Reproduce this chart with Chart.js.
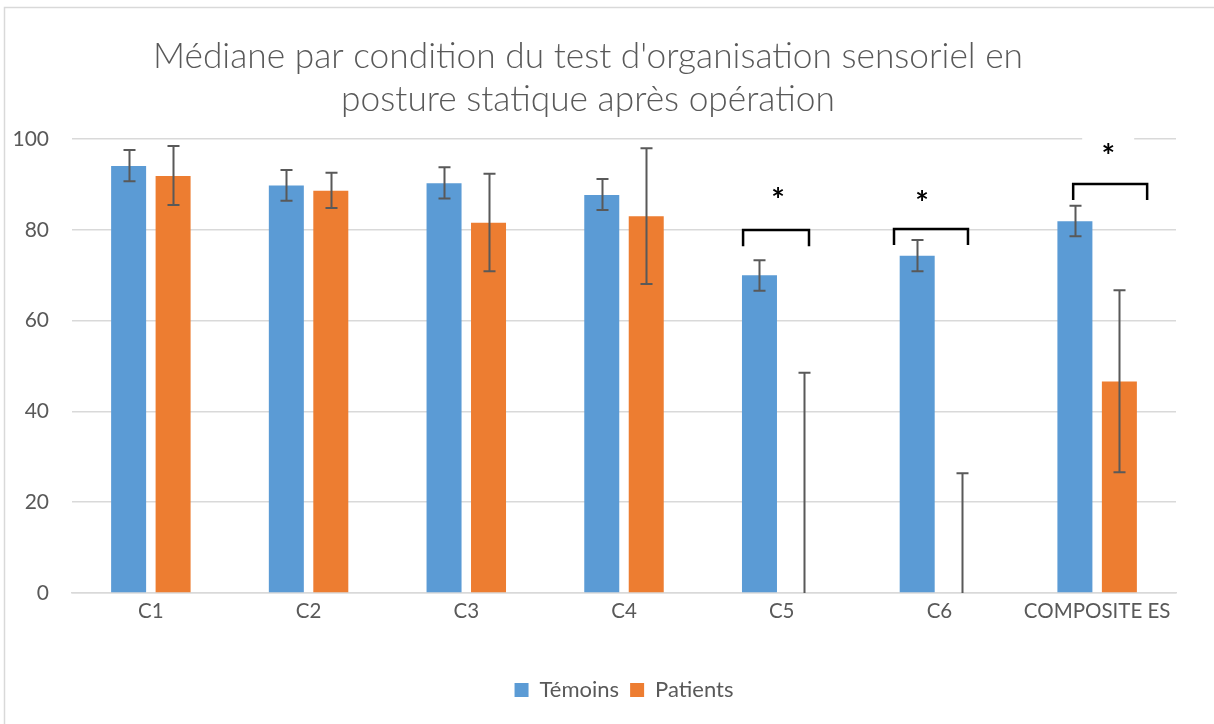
<!DOCTYPE html>
<html>
<head>
<meta charset="utf-8">
<script src="https://cdn.jsdelivr.net/npm/chart.js@4"></script>
<style>
  html, body { margin: 0; padding: 0; background: #fff; }
  #wrap { width: 1214px; height: 724px; position: relative; }
</style>
</head>
<body>
<div id="wrap"><canvas id="myChart" width="1214" height="724"></canvas></div>
<script>
const labels = ['C1', 'C2', 'C3', 'C4', 'C5', 'C6', 'COMPOSITE ES'];

const temoins = [94.1, 89.8, 90.3, 87.7, 70.0, 74.3, 81.9];
const patients = [91.9, 88.6, 81.6, 83.0, 0, 0, 46.6];

// bornes des barres d'erreur
const temoinsLow = [90.7, 86.4, 86.9, 84.4, 66.6, 70.9, 78.6];
const temoinsHigh = [97.6, 93.2, 93.8, 91.2, 73.3, 77.8, 85.3];
const patientsLow = [85.5, 84.8, 70.9, 68.1, 0, 0, 26.6];
const patientsHigh = [98.5, 92.6, 92.4, 98.0, 48.5, 26.4, 66.7];

// crochets de significativité : categorie, debut, fin, haut, bas des bras, position de l'etoile
const sigCategory = [4, 5, 6];
const sigFrom = [-0.245, -0.288, -0.152];
const sigTo = [0.173, 0.181, 0.317];
const sigTop = [80, 80.2, 90.1];
const sigArm = [76.4, 76.7, 86.6];
const sigStarX = [-0.024, -0.11, 0.07];
const sigStarY = [87.7, 87.2, 97.4];

const yTicks = [0, 20, 40, 60, 80, 100];

const FONT = 'Lato, "Open Sans", sans-serif';

const errorBars = {
  id: 'errorBars',
  afterDatasetsDraw(chart) {
    const ctx = chart.ctx;
    const y = chart.scales.y;
    const lows = [temoinsLow, patientsLow];
    const highs = [temoinsHigh, patientsHigh];
    ctx.save();
    ctx.strokeStyle = '#595959';
    ctx.lineWidth = 2;
    for (let d = 0; d < 2; d++) {
      const meta = chart.getDatasetMeta(d);
      meta.data.forEach((bar, i) => {
        const x = Math.round(bar.x) + 0.5;
        const yl = y.getPixelForValue(lows[d][i]);
        const yh = y.getPixelForValue(highs[d][i]);
        ctx.beginPath();
        ctx.moveTo(x, yl);
        ctx.lineTo(x, yh);
        ctx.moveTo(x - 6, yh);
        ctx.lineTo(x + 6, yh);
        if (lows[d][i] > 0) {
          ctx.moveTo(x - 6, yl);
          ctx.lineTo(x + 6, yl);
        }
        ctx.stroke();
      });
    }
    ctx.restore();
  }
};

const signif = {
  id: 'signif',
  afterDraw(chart) {
    const ctx = chart.ctx;
    const xs = chart.scales.x;
    const ys = chart.scales.y;
    ctx.save();
    for (let k = 0; k < sigCategory.length; k++) {
      const c = sigCategory[k];
      const x1 = xs.getPixelForValue(c + sigFrom[k]);
      const x2 = xs.getPixelForValue(c + sigTo[k]);
      const yt = ys.getPixelForValue(sigTop[k]);
      const ya = ys.getPixelForValue(sigArm[k]);
      const sx = xs.getPixelForValue(c + sigStarX[k]);
      const sy = ys.getPixelForValue(sigStarY[k]);
      // fond blanc derriere l'etoile (coupe la grille)
      ctx.fillStyle = '#fff';
      ctx.fillRect(sx - 26, sy - 14, 52, 28);
      ctx.strokeStyle = '#000';
      ctx.lineWidth = 2.5;
      ctx.beginPath();
      ctx.moveTo(x1, ya);
      ctx.lineTo(x1, yt);
      ctx.lineTo(x2, yt);
      ctx.lineTo(x2, ya);
      ctx.stroke();
      ctx.fillStyle = '#000';
      ctx.font = 'bold 32px ' + FONT;
      ctx.textAlign = 'center';
      ctx.textBaseline = 'middle';
      ctx.fillText('*', sx, sy + 7);
    }
    ctx.restore();
  }
};

const frame = {
  id: 'frame',
  beforeDraw(chart) {
    const ctx = chart.ctx;
    ctx.save();
    ctx.fillStyle = '#fff';
    ctx.fillRect(0, 0, chart.width, chart.height);
    ctx.strokeStyle = '#d9d9d9';
    ctx.lineWidth = 1.5;
    ctx.strokeRect(4.5, 7.5, chart.width + 10, chart.height + 10);
    ctx.restore();
  }
};

// la legende est centree sous la zone du graphique, pas sous le canvas
const legendShift = {
  id: 'legendShift',
  afterLayout(chart) {
    const dx = (chart.chartArea.left + chart.chartArea.right) / 2 - (chart.legend.left + chart.legend.right) / 2;
    chart.legend.left += dx;
    chart.legend.right += dx;
  }
};

const data = {
  labels: labels,
  datasets: [
    {
      label: 'Témoins',
      data: temoins,
      backgroundColor: '#5B9BD5',
      categoryPercentage: 0.564,
      barPercentage: 0.787
    },
    {
      label: 'Patients',
      data: patients,
      backgroundColor: '#ED7D31',
      categoryPercentage: 0.564,
      barPercentage: 0.787
    }
  ]
};

const config = {
  type: 'bar',
  data,
  plugins: [frame, legendShift, errorBars, signif],
  options: {
    responsive: false,
    animation: false,
    layout: { padding: { top: 10, left: 0, right: 38, bottom: 13 } },
    plugins: {
      title: {
        display: true,
        text: ["Médiane par condition du test d'organisation sensoriel en", 'posture statique après opération'],
        color: '#595959',
        font: { family: FONT, size: 35.3, weight: 300, lineHeight: 1.22 },
        padding: { top: 25, bottom: 18 }
      },
      legend: {
        position: 'bottom',
        labels: {
          color: '#595959',
          font: { family: FONT, size: 22 },
          boxWidth: 14,
          boxHeight: 14,
          padding: 11
        }
      },
      tooltip: { enabled: false }
    },
    scales: {
      x: {
        grid: { display: false, drawTicks: false },
        border: { display: true, color: '#d9d9d9', width: 1.5 },
        ticks: { color: '#595959', font: { family: FONT, size: 20.5 }, padding: 6 },
        afterFit: (s) => { s.height = 75; }
      },
      y: {
        min: 0,
        max: 100,
        afterBuildTicks: (s) => { s.ticks = yTicks.map(v => ({ value: v })); },
        grid: { color: '#d9d9d9', lineWidth: 1.5, drawTicks: false },
        border: { display: false },
        ticks: { color: '#595959', font: { family: FONT, size: 21 }, padding: 23 },
        afterFit: (s) => { s.width = 72; }
      }
    }
  }
};

var myChart = new Chart(document.getElementById('myChart'), config);
</script>
</body>
</html>
